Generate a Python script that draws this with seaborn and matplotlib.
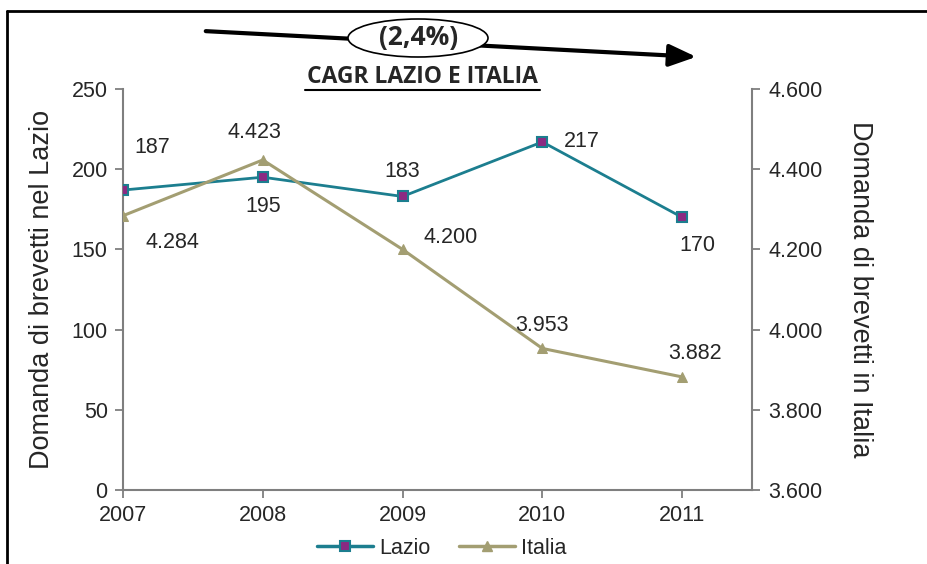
import matplotlib
matplotlib.use("Agg")
import matplotlib.pyplot as plt
import seaborn as sns
import pandas as pd
from matplotlib.patches import Ellipse
from matplotlib.lines import Line2D
from matplotlib.ticker import FuncFormatter

years = [2007, 2008, 2009, 2010, 2011]
lazio = [187, 195, 183, 217, 170]
italia = [4284, 4423, 4200, 3953, 3882]
lazio_labels = ["187", "195", "183", "217", "170"]
italia_labels = ["4.284", "4.423", "4.200", "3.953", "3.882"]
left_ticks = [0, 50, 100, 150, 200, 250]
right_ticks = [3600, 3800, 4000, 4200, 4400, 4600]

sns.set_style("white")
plt.rcParams["font.family"] = ["Liberation Sans", "DejaVu Sans"]

W, H = 928, 564
fig = plt.figure(figsize=(W / 100, H / 100), dpi=100)
ax = fig.add_axes([123 / W, 1 - 490 / H, (752 - 123) / W, (490 - 89) / H])
ax2 = ax.twinx()

teal = "#1C7E8F"
purple = "#8B2A82"
khaki = "#A39E72"
axis_gray = "#7F7F7F"
FS = 15.5

df = pd.DataFrame({"year": years, "lazio": lazio, "italia": italia})

sns.lineplot(data=df, x="year", y="lazio", ax=ax, color=teal, linewidth=2,
             marker="s", markersize=7, markerfacecolor=purple,
             markeredgecolor=teal, markeredgewidth=1.5, zorder=5)
sns.lineplot(data=df, x="year", y="italia", ax=ax2, color=khaki, linewidth=2.2,
             marker="^", markersize=7, markerfacecolor=khaki,
             markeredgecolor=khaki, zorder=4)

ax.set_xlim(2007, 2011.5)
ax.set_ylim(0, 250)
ax2.set_ylim(3600, 4600)
ax.set_xticks(years)
ax.set_xticklabels([str(y) for y in years])
ax.set_yticks(left_ticks)
ax2.set_yticks(right_ticks)
ax2.yaxis.set_major_formatter(FuncFormatter(lambda v, p: f"{int(v):,}".replace(",", ".")))

for a in (ax, ax2):
    for s in a.spines.values():
        s.set_visible(False)
ax.spines["left"].set_visible(True)
ax.spines["bottom"].set_visible(True)
ax2.spines["right"].set_visible(True)
for sp in (ax.spines["left"], ax.spines["bottom"], ax2.spines["right"]):
    sp.set_color(axis_gray)
    sp.set_linewidth(1.5)

ax.tick_params(axis="both", which="both", direction="out", length=6, width=1.3,
               color=axis_gray, labelsize=FS, pad=5, left=True, bottom=True)
ax2.tick_params(axis="y", direction="out", length=6, width=1.3,
                color=axis_gray, labelsize=FS, pad=6, right=True)
ax.set_xlabel("")
ax.set_ylabel("Domanda di brevetti nel Lazio", fontsize=19.5, labelpad=12)
ax2.set_ylabel("Domanda di brevetti in Italia", fontsize=19.5, rotation=270,
               labelpad=36)
ax.grid(False)
ax2.grid(False)

lazio_off = [(29, 43), (0, -29), (0, 25), (39, 0), (15, -28)]
italia_off = [(49, -27), (-8, 27), (48, 12), (0, 23), (13, 23)]
for x, y, t, o in zip(years, lazio, lazio_labels, lazio_off):
    ax.annotate(t, (x, y), xytext=o, textcoords="offset pixels",
                ha="center", va="center", fontsize=FS, zorder=10)
for x, y, t, o in zip(years, italia, italia_labels, italia_off):
    ax2.annotate(t, (x, y), xytext=o, textcoords="offset pixels",
                 ha="center", va="center", fontsize=FS, zorder=10)

handles = [
    Line2D([], [], color=teal, linewidth=2.5, marker="s", markersize=7,
           markerfacecolor=purple, markeredgecolor=teal, markeredgewidth=1.5),
    Line2D([], [], color=khaki, linewidth=2.5, marker="^", markersize=7,
           markerfacecolor=khaki, markeredgecolor=khaki),
]
fig.legend(handles, ["Lazio", "Italia"], loc="center", ncol=2,
           bbox_to_anchor=(442 / W, 1 - 548 / H), frameon=False,
           fontsize=FS, handlelength=2.6, handletextpad=0.3, columnspacing=1.3)

def fx(px):
    return px / W

def fy(py):
    return 1 - py / H

# frame
fig.add_artist(Line2D([fx(7), fx(7)], [fy(11), 0], color="black", linewidth=2,
                      transform=fig.transFigure))
fig.add_artist(Line2D([fx(7), 1], [fy(11), fy(11)], color="black", linewidth=2,
                      transform=fig.transFigure))

# CAGR arrow
fig.patches.append(matplotlib.patches.FancyArrowPatch(
    (fx(203), fy(31)), (fx(699), fy(57)), transform=fig.transFigure,
    arrowstyle="-|>,head_length=11,head_width=4.5", mutation_scale=1.5,
    color="black", linewidth=3))
ell = Ellipse((fx(418), fy(38)), 140 / W, 38 / H, transform=fig.transFigure,
              facecolor="white", edgecolor="black", linewidth=1.2, zorder=5)
fig.patches.append(ell)
fig.text(fx(419), fy(38), "(2,4%)", ha="center", va="center", fontsize=19,
         fontweight="bold", family=["Open Sans", "DejaVu Sans"], zorder=6)
fig.text(fx(422), fy(77), "CAGR LAZIO E ITALIA", ha="center", va="center",
         fontsize=16.5, fontweight="bold", family=["Open Sans", "DejaVu Sans"])
fig.add_artist(Line2D([fx(305), fx(540)], [fy(90), fy(90)], color="black",
                      linewidth=1.5, transform=fig.transFigure))

fig.savefig("out.png", dpi=100)
